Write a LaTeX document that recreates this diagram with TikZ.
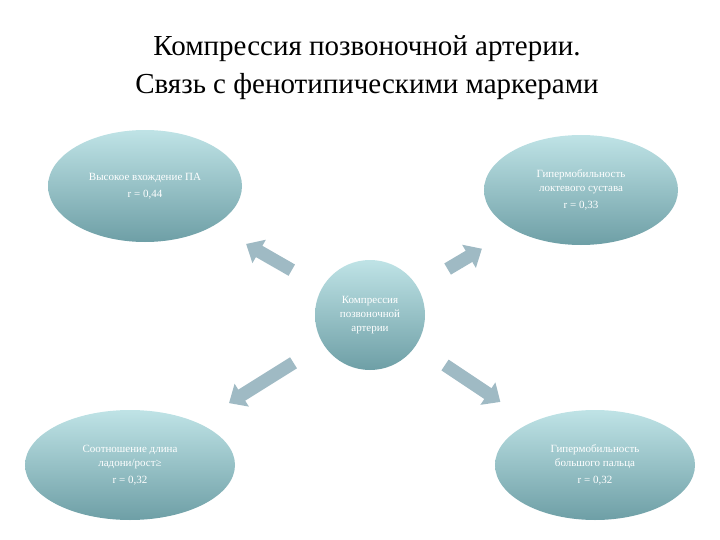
\documentclass[tikz,border=0pt]{standalone}
\usepackage{fontspec}
\setmainfont{Liberation Serif}
\usetikzlibrary{arrows.meta,shapes.geometric}
\begin{document}
\begin{tikzpicture}[x=1pt,y=-1pt,
  bub/.style={ellipse,top color=bubtop,bottom color=bubbot,draw=none,align=center,text=white,font=\fontsize{11}{14}\selectfont,inner sep=0pt},
  barr/.style={draw=white,line width=18pt,-{Triangle[width=32pt,length=20pt]},shorten <=34pt,shorten >=34pt},
  barri/.style={draw=arrc,line width=13pt,-{Triangle[width=26pt,length=15pt]},shorten <=35pt,shorten >=37pt}]
\definecolor{bubtop}{HTML}{BFE3E6}
\definecolor{bubbot}{HTML}{6E9FA6}
\definecolor{arrc}{HTML}{9FBAC4}
\useasboundingbox (0,0) rectangle (720,540);
\node[font=\fontsize{29}{38}\selectfont,align=center] (title) at (367,68) {Компрессия позвоночной артерии.\\Связь с фенотипическими маркерами};
\node[bub,minimum width=194pt,minimum height=112pt] (tl) at (145,186) {Высокое вхождение ПА\\[3pt]r = 0,44};
\node[bub,minimum width=194pt,minimum height=110pt] (tr) at (581,190) {Гипермобильность\\локтевого сустава\\[3pt]r = 0,33};
\node[bub,circle,minimum size=110pt] (c) at (370,315) {Компрессия\\позвоночной\\артерии};
\node[bub,minimum width=210pt,minimum height=110pt] (bl) at (130,465) {Соотношение длина\\ладони/рост≥\\[3pt]r = 0,32};
\node[bub,minimum width=200pt,minimum height=110pt] (br) at (595,465) {Гипермобильность\\большого пальца\\[3pt]r = 0,32};
\foreach \t in {tl,tr,bl,br}{
  \draw[barr] (c) -- (\t);
  \draw[barri] (c) -- (\t);
}
\end{tikzpicture}
\end{document}
